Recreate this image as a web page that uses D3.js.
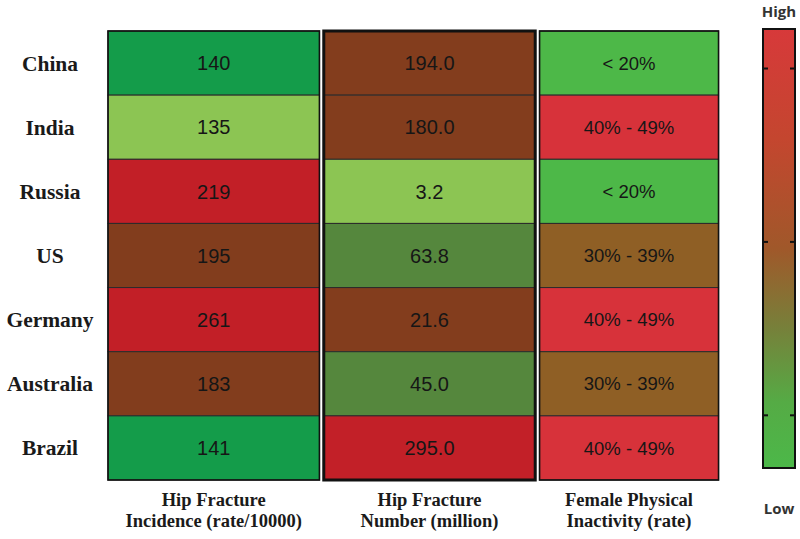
<!DOCTYPE html>
<html><head><meta charset="utf-8">
<script src="https://cdn.jsdelivr.net/npm/d3@7"></script>
<style>body{margin:0;background:#fff;}svg{display:block;}</style>
</head><body>
<svg id="c" width="800" height="539"></svg>
<script>
// ---- data ----
const countries = ["China","India","Russia","US","Germany","Australia","Brazil"];
const columnHeaders = [
  ["Hip Fracture","Incidence (rate/10000)"],
  ["Hip Fracture","Number (million)"],
  ["Female Physical","Inactivity (rate)"]
];
const incidence = ["140","135","219","195","261","183","141"];
const fractureNumber = ["194.0","180.0","3.2","63.8","21.6","45.0","295.0"];
const inactivity = ["< 20%","40% - 49%","< 20%","30% - 39%","40% - 49%","30% - 39%","40% - 49%"];
// colour level of each cell (0 = lowest ... 3 = highest)
const incidenceLevel = [1,0,3,2,3,2,1];
const numberLevel = [2,2,0,1,2,1,3];
const inactivityLevel = [0,3,0,2,3,2,3];
const legendLabels = ["High","Low"];

// ---- drawing ----
const svg = d3.select("#c");
const y = d3.scaleBand().domain(countries).range([31, 480]);
const colKeys = [0,1,2];
const x = d3.scaleBand().domain(colKeys).range([108, 751]).paddingInner(0.02);
const colW = [x.bandwidth(), x.bandwidth(), 179];

const palettes = [
  d3.scaleOrdinal().domain([0,1,2,3]).range(["#8cc553","#149c4a","#823d1d","#c21f27"]),
  d3.scaleOrdinal().domain([0,1,2,3]).range(["#8cc553","#55873d","#833d1d","#c22028"]),
  d3.scaleOrdinal().domain([0,1,2,3]).range(["#4db848","#6c8a3a","#8f5f25","#d7323a"])
];
const texts = [incidence, fractureNumber, inactivity];
const levels = [incidenceLevel, numberLevel, inactivityLevel];

colKeys.forEach(ci => {
  const g = svg.append("g");
  const cells = countries.map((c,i)=>({c, t:texts[ci][i], l:levels[ci][i]}));
  g.selectAll("rect.cell").data(cells).join("rect")
    .attr("x", x(ci)).attr("y", d=>y(d.c))
    .attr("width", colW[ci]).attr("height", y.bandwidth())
    .attr("fill", d=>palettes[ci](d.l))
    .attr("stroke", "#2b2b2b").attr("stroke-width", 1);
  g.selectAll("text").data(cells).join("text")
    .attr("x", x(ci)+colW[ci]/2).attr("y", d=>y(d.c)+y.bandwidth()/2)
    .attr("dy","0.36em").attr("text-anchor","middle")
    .attr("font-family","Liberation Sans, Arial, sans-serif")
    .attr("font-size", ci===2 ? 18.5 : 20)
    .attr("fill","#161616").text(d=>d.t);
  g.append("rect").attr("x", x(ci)).attr("y", y.range()[0])
    .attr("width", colW[ci]).attr("height", y.range()[1]-y.range()[0])
    .attr("fill","none").attr("stroke","#111").attr("stroke-width", ci===1?3:1.6);
  // header
  const ht = svg.append("text").attr("text-anchor","middle")
    .attr("font-family","Liberation Serif, Times New Roman, serif")
    .attr("font-weight","bold").attr("font-size",18.5).attr("fill","#1a1a1a");
  columnHeaders[ci].forEach((line,k)=>{
    ht.append("tspan").attr("x", x(ci)+colW[ci]/2).attr("y", 506+k*21).text(line);
  });
});

// row labels
svg.append("g").selectAll("text").data(countries).join("text")
  .attr("x", 50).attr("y", d=>y(d)+y.bandwidth()/2).attr("dy","0.35em")
  .attr("text-anchor","middle")
  .attr("font-family","Liberation Serif, Times New Roman, serif")
  .attr("font-weight","bold").attr("font-size",21.5).attr("fill","#1a1a1a")
  .text(d=>d);

// colour bar
const defs = svg.append("defs");
const grad = defs.append("linearGradient").attr("id","gb")
  .attr("x1",0).attr("y1",0).attr("x2",0).attr("y2",1);
[[0,"#d7393a"],[0.25,"#c4462f"],[0.5,"#a0582a"],[0.68,"#77803a"],[0.85,"#55ab45"],[1,"#4cb849"]]
  .forEach(s=>grad.append("stop").attr("offset",s[0]).attr("stop-color",s[1]));
const barY = d3.scaleLinear().domain([1,0]).range([29,468]);
const bx0 = 763, bx1 = 795;
svg.append("rect").attr("x",bx0).attr("y",barY(1)).attr("width",bx1-bx0)
  .attr("height",barY(0)-barY(1)).attr("fill","url(#gb)")
  .attr("stroke","#111").attr("stroke-width",2);
[0.91,0.515,0.12].forEach(v=>{
  svg.append("line").attr("x1",bx0).attr("x2",bx0+5).attr("y1",barY(v)).attr("y2",barY(v))
    .attr("stroke","#111").attr("stroke-width",2);
  svg.append("line").attr("x1",bx1-5).attr("x2",bx1).attr("y1",barY(v)).attr("y2",barY(v))
    .attr("stroke","#111").attr("stroke-width",2);
});
svg.append("text").attr("x",(bx0+bx1)/2).attr("y",17).attr("text-anchor","middle")
  .attr("font-family","Open Sans, Liberation Sans, sans-serif").attr("font-weight","bold")
  .attr("font-size",15).attr("fill","#333").text(legendLabels[0]);
svg.append("text").attr("x",(bx0+bx1)/2).attr("y",514).attr("text-anchor","middle")
  .attr("font-family","Open Sans, Liberation Sans, sans-serif").attr("font-weight","bold")
  .attr("font-size",15).attr("fill","#333").text(legendLabels[1]);
</script>
</body></html>
